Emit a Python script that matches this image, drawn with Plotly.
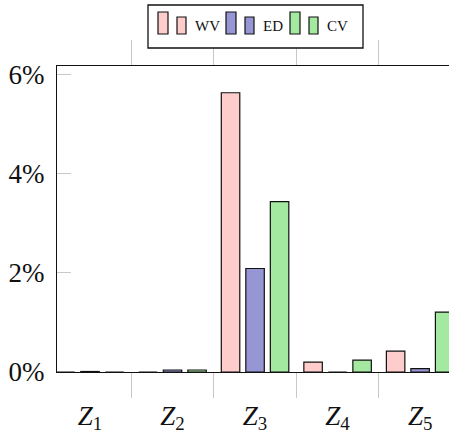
import plotly.graph_objects as go

# ---- data -------------------------------------------------------------
categories = ["Z1", "Z2", "Z3", "Z4", "Z5"]
category_labels = ["<i>Z</i><sub>1</sub>", "<i>Z</i><sub>2</sub>", "<i>Z</i><sub>3</sub>",
                   "<i>Z</i><sub>4</sub>", "<i>Z</i><sub>5</sub>"]
series_names = ["WV", "ED", "CV"]
wv_values = [0.0, 0.0, 5.64, 0.20, 0.42]
ed_values = [0.01, 0.04, 2.09, 0.0, 0.07]
cv_values = [0.0, 0.04, 3.44, 0.24, 1.21]
y_tick_values = [0, 2, 4, 6]
y_tick_labels = ["0%", "2%", "4%", "6%"]

# ---- style ------------------------------------------------------------
W, H = 449, 436
M_L, M_R, M_T, M_B = 57, 0, 66, 64
fills = ["#FFCCCC", "#9696D4", "#A4E9A0"]
serif = "Liberation Serif, Times New Roman, serif"
gray = "#c8c8c8"

fig = go.Figure()
for name, vals, col in zip(series_names, [wv_values, ed_values, cv_values], fills):
    fig.add_trace(go.Bar(
        x=categories, y=vals, name=name,
        marker=dict(color=col, line=dict(color="#111111", width=1.2)),
        showlegend=False,
    ))

fig.update_layout(
    width=W, height=H,
    margin=dict(l=M_L, r=M_R, t=M_T, b=M_B, pad=0),
    paper_bgcolor="white", plot_bgcolor="white",
    barmode="group", bargap=0.109, bargroupgap=0.246,
    font=dict(family=serif, color="#111111"),
    xaxis=dict(
        type="category", range=[-0.4, 4.35],
        tickmode="array", tickvals=categories, ticktext=category_labels,
        tickson="boundaries", ticks="outside", ticklen=25, tickwidth=1.2,
        tickcolor=gray, showgrid=False, zeroline=False,
        showline=True, linecolor="#111111", linewidth=1.3, mirror="allticks",
        tickfont=dict(size=27, family=serif), ticklabelstandoff=19,
    ),
    yaxis=dict(
        range=[0, 6.18], tickmode="array", tickvals=y_tick_values,
        ticktext=y_tick_labels, ticks="inside", ticklen=14, tickwidth=1.2,
        tickcolor=gray, showgrid=False, zeroline=False,
        showline=True, linecolor="#111111", linewidth=1.3,
        tickfont=dict(size=27, family=serif), ticklabelstandoff=6,
    ),
    yaxis2=dict(
        overlaying="y", side="right", range=[0, 6.18],
        tickmode="array", tickvals=y_tick_values, ticks="inside", ticklen=9,
        tickwidth=1.2, tickcolor=gray, showticklabels=False,
        showgrid=False, zeroline=False, showline=False,
    ),
)

# ---- legend box with pgfplots-style double bar glyphs --------------------
plot_w = W - M_L - M_R
plot_h = H - M_T - M_B


def px_x(x):
    return (x - M_L) / plot_w


def px_y(y):
    return (H - M_B - y) / plot_h


fig.add_shape(type="rect", xref="paper", yref="paper",
              x0=px_x(148), x1=px_x(363), y0=px_y(48), y1=px_y(5),
              fillcolor="white", line=dict(color="#111111", width=1.3), layer="above")

entry_x = [158, 226, 290]
for x0, name, col in zip(entry_x, series_names, fills):
    fig.add_shape(type="rect", xref="paper", yref="paper",
                  x0=px_x(x0), x1=px_x(x0 + 10), y0=px_y(34), y1=px_y(12),
                  fillcolor=col, line=dict(color="#111111", width=1.2), layer="above")
    fig.add_shape(type="rect", xref="paper", yref="paper",
                  x0=px_x(x0 + 19), x1=px_x(x0 + 28), y0=px_y(34), y1=px_y(17),
                  fillcolor=col, line=dict(color="#111111", width=1.2), layer="above")
    fig.add_annotation(xref="paper", yref="paper", x=px_x(x0 + 35), y=px_y(26),
                       text=name, showarrow=False, xanchor="left", yanchor="middle",
                       font=dict(size=15, family=serif, color="#111111"))

fig.write_html("out.html")
